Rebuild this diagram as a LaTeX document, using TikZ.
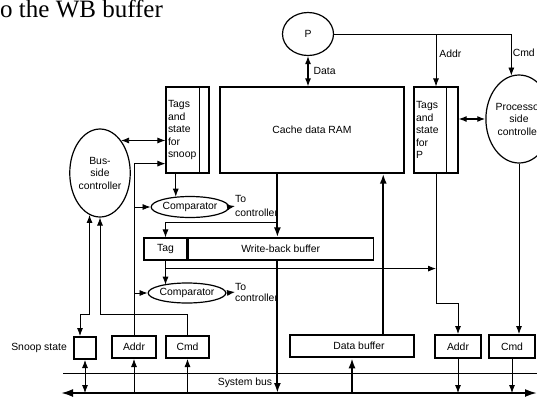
\documentclass[tikz,border=0pt]{standalone}
\usepackage{fontspec}
\setmainfont{Liberation Sans}
\newfontfamily\titlefont{Liberation Serif}
\usetikzlibrary{arrows.meta, shapes.geometric, positioning, calc}

\begin{document}
\begin{tikzpicture}[x=1pt, y=-1pt,
    font=\fontsize{10.4}{12.5}\selectfont,
    box/.style={draw, line width=1.2pt, inner sep=0pt},
    thickbox/.style={draw, line width=2pt, inner sep=0pt, minimum height=22pt},
    ctrl/.style={draw, ellipse, line width=1.2pt, inner sep=0pt, align=center,
        minimum width=53pt, minimum height=88pt},
    cmp/.style={draw, ellipse, line width=1.2pt, inner sep=0pt, minimum height=21pt},
    tolbl/.style={align=left, inner sep=0pt, anchor=west},
    arr/.style={-{Latex[length=8pt,width=6pt]}, line width=0.8pt},
    arr2/.style={{Latex[length=8pt,width=6pt]}-{Latex[length=8pt,width=6pt]}, line width=0.8pt},
    tarr/.style={-{Latex[length=10pt,width=7pt]}, line width=2pt}
]

    \useasboundingbox (0,0) rectangle (537,399);
    \clip (0,0) rectangle (537,399);

    \node[anchor=base west, inner sep=0pt, font=\titlefont\fontsize{25}{25}\selectfont] (title) at (0,17) {o the WB buffer};

    % processor and cache arrays
    \node[draw, ellipse, line width=1.2pt, inner sep=0pt, minimum width=51pt, minimum height=43pt] (P) at (308,34) {P};
    \node[box, minimum width=184pt, minimum height=86pt] (ram) at (312,130) {Cache data RAM};
    \node[box, minimum width=43pt, minimum height=86pt, text width=39pt, align=left] (snoopT) at (187.5,130) {Tags\\and\\state\\for\\snoop};
    \draw[line width=1.2pt] ($(snoopT.north east)+(-10,0)$) -- ($(snoopT.south east)+(-10,0)$);
    \node[box, minimum width=44pt, minimum height=86pt, text width=40pt, align=left] (tagsP) at (436,130) {Tags\\and\\state\\for\\P};
    \draw[line width=1.2pt] ($(tagsP.north east)+(-12,0)$) -- ($(tagsP.south east)+(-12,0)$);

    \node[ctrl] (bctrl) at (100,173) {Bus-\\side\\controller};
    \node[ctrl, minimum width=54pt] (pctrl) at (519,119) {Processor\\side\\controller};

    % comparators and write-back buffer
    \node[cmp, minimum width=63pt] (cmp1) at (190,207) {Comparator};
    \node[tolbl, font=\fontsize{10.4}{13.5}\selectfont] (to1) at (235,206) {To\\controller};
    \node[box, minimum width=43pt, minimum height=22pt] (tag) at (165.5,249) {Tag};
    \node[box, minimum width=185pt, minimum height=22pt, right=0pt of tag] (wb) {Write-back buffer};
    \node[cmp, minimum width=65pt, minimum height=20pt] (cmp2) at (187,293) {Comparator};
    \node[tolbl, font=\fontsize{10.4}{11}\selectfont] (to2) at (235,292) {To\\controller};

    % bus interface
    \node[thickbox, minimum width=22pt] (sstate) at (85,348) {};
    \node[left=6pt of sstate, inner sep=0pt] (sslbl) {Snoop state};
    \node[thickbox, minimum width=44pt] (addrL) at (134,347) {Addr};
    \node[thickbox, minimum width=43pt] (cmdL) at (187.5,347) {Cmd};
    \node[thickbox, minimum width=124pt, line width=2.5pt] (dbuf) at (352,346) {\hspace*{14pt}Data buffer};
    \node[thickbox, minimum width=46pt, minimum height=23pt] (addrR) at (458,346.5) {Addr};
    \node[thickbox, minimum width=46pt, minimum height=23pt] (cmdR) at (512,346.5) {Cmd};

    \coordinate (busL) at (61,393);
    \coordinate (busR) at (537,393);
    \coordinate (thinL) at (63,373);
    \coordinate (thinR) at (537,373);
    \draw[line width=0.8pt] (thinL) -- (thinR);
    \draw[{Latex[length=12pt,width=8pt]}-{Latex[length=12pt,width=8pt]}, line width=2pt] (busL) -- (busR);
    \node[inner sep=0pt] (sysbus) at (245,383) {System bus};

    % processor side connections
    \draw[arr] (P.east) -| node[pos=0.72, right, inner sep=1pt] (cmdlbl) {Cmd} (pctrl.100);
    \draw[arr] (P.east -| tagsP.north) -- node[pos=0.37, right, inner sep=3pt] (addrlbl) {Addr} (tagsP.north);
    \draw[arr2, line width=1.2pt] (P.south) -- node[right=5pt, inner sep=0pt] (datalbl) {Data} (P.south |- ram.north);
    \draw[arr2, line width=1.2pt] (pctrl.west) -- (pctrl.west -| tagsP.east);

    % bus side connections
    \draw[arr2] (bctrl.57) -- (bctrl.57 -| snoopT.west);
    \draw[arr] (addrL.north) |- ($(snoopT.south west)+(0,-10)$);
    \draw[arr] (addrL.north |- cmp1.west) -- (cmp1.west);
    \draw[arr] (addrL.north |- cmp2.west) -- (cmp2.west);
    \draw[arr] (cmp1.144 |- snoopT.south) -- (cmp1.144);
    \draw[arr] (cmp1.east) -- (to1.west);
    \draw[arr] (cmp2.east) -- (to2.west);

    % data paths
    \coordinate (ramout) at ($(ram.south west)+(58,0)$);
    \draw[tarr] (ramout) -- (ramout |- wb.north);
    \draw[arr] ($(ramout)+(0,49)$) -| (tag.north);
    \draw[tarr] (ramout |- wb.south) -- (ramout |- busL);
    \draw[arr] (tag.south) -- (tag.south |- cmp2.161);
    \coordinate (tagtap) at ($(tag.south)+(0,8)$);
    \draw[arr] (tagtap) -- (tagtap -| tagsP.south);
    \draw[arr] (tagsP.south) -- ++(0,130) -| (addrR.north);
    \draw[arr] (pctrl.south) -- (pctrl.south |- cmdR.north);
    \draw[arr] (addrR.south) -- (addrR.south |- busR);
    \draw[arr] (cmdR.south) -- (cmdR.south |- busR);
    \coordinate (dbtap) at ($(dbuf.north east)+(-32,0)$);
    \draw[tarr] (dbtap) -- (dbtap |- ram.south);
    \draw[tarr] (dbuf.south |- busL) -- (dbuf.south);

    % snoop state and bus-side controller
    \coordinate (ssbend) at ($(sstate.north)+(-5,-22)$);
    \draw[arr2] (bctrl.256) |- (ssbend) -- (ssbend |- sstate.north);
    \draw[arr] (cmdL.north) |- (bctrl.south |- ssbend) -- (bctrl.south);
    \draw[arr2] (sstate.south) -- (sstate.south |- busL);
    \draw[arr] (addrL.south |- busL) -- (addrL.south);
    \draw[arr] (cmdL.south |- busL) -- (cmdL.south);

\end{tikzpicture}
\end{document}
